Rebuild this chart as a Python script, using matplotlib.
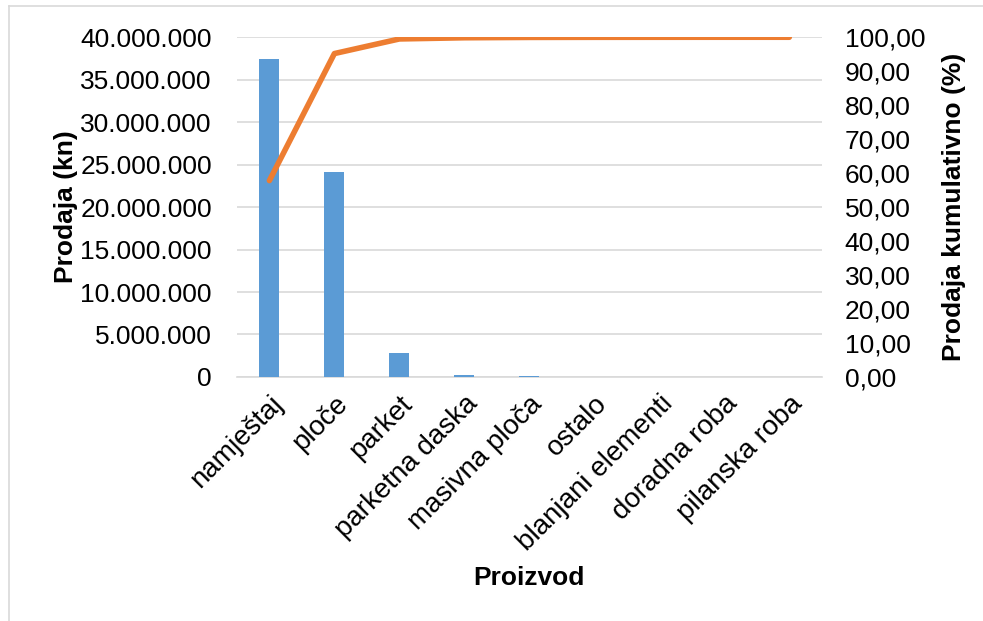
import numpy as np
import matplotlib
matplotlib.use("Agg")
import matplotlib.pyplot as plt
from matplotlib.ticker import FuncFormatter, MultipleLocator
from matplotlib.lines import Line2D

plt.rcParams['font.family'] = ['Liberation Sans', 'DejaVu Sans']

categories = ['namještaj', 'ploče', 'parket', 'parketna daska', 'masivna ploča',
              'ostalo', 'blanjani elementi', 'doradna roba', 'pilanska roba']
sales = [37400000, 24100000, 2800000, 250000, 100000, 20000, 10000, 5000, 2000]
cumulative = [57.8, 95.2, 99.5, 99.85, 99.95, 99.98, 99.99, 100.0, 100.0]

fig = plt.figure(figsize=(9.83, 6.21), dpi=100)
ax = fig.add_axes([0.241, 0.393, 0.595, 0.547])
ax2 = ax.twinx()

x = np.arange(len(categories))
ax.bar(x, sales, width=0.31, color='#5B9BD5', zorder=3)
ax2.plot(x, cumulative, color='#ED7D31', lw=4, solid_capstyle='round', zorder=4)

ax.set_xlim(-0.5, len(categories) - 0.5)
ax.set_ylim(0, 40000000)
ax2.set_ylim(0, 100)
ax.yaxis.set_major_locator(MultipleLocator(5000000))
ax2.yaxis.set_major_locator(MultipleLocator(10))

ax.yaxis.set_major_formatter(FuncFormatter(lambda v, p: '{:,.0f}'.format(v).replace(',', '.')))
ax2.yaxis.set_major_formatter(FuncFormatter(lambda v, p: '{:.2f}'.format(v).replace('.', ',')))

ax.grid(axis='y', color='#d9d9d9', lw=1.2, zorder=0)
for a in (ax, ax2):
    for s in a.spines.values():
        s.set_visible(False)
    a.tick_params(length=0, labelsize=19)
ax.spines['bottom'].set_visible(True)
ax.spines['bottom'].set_color('#d9d9d9')
ax.spines['bottom'].set_linewidth(1.2)
ax.tick_params(axis='y', pad=18)
ax2.tick_params(axis='y', pad=16.5)

ax.set_xticks(x)
ax.set_xticklabels(categories, rotation=45, ha='right', rotation_mode='anchor', fontsize=20)
ax.tick_params(axis='x', pad=10)

ax.set_ylabel('Prodaja (kn)', fontsize=19, fontweight='bold', labelpad=2)
ax2.set_ylabel('Prodaja kumulativno (%)', fontsize=19, fontweight='bold', labelpad=12)
ax.set_xlabel('Proizvod', fontsize=19, fontweight='bold', labelpad=7)

# chart border (top and left visible)
fig.add_artist(Line2D([0.009, 0.009], [0, 0.99], transform=fig.transFigure, color='#d9d9d9', lw=1.2))
fig.add_artist(Line2D([0.009, 1], [0.99, 0.99], transform=fig.transFigure, color='#d9d9d9', lw=1.2))

fig.savefig('out.png', dpi=100)
